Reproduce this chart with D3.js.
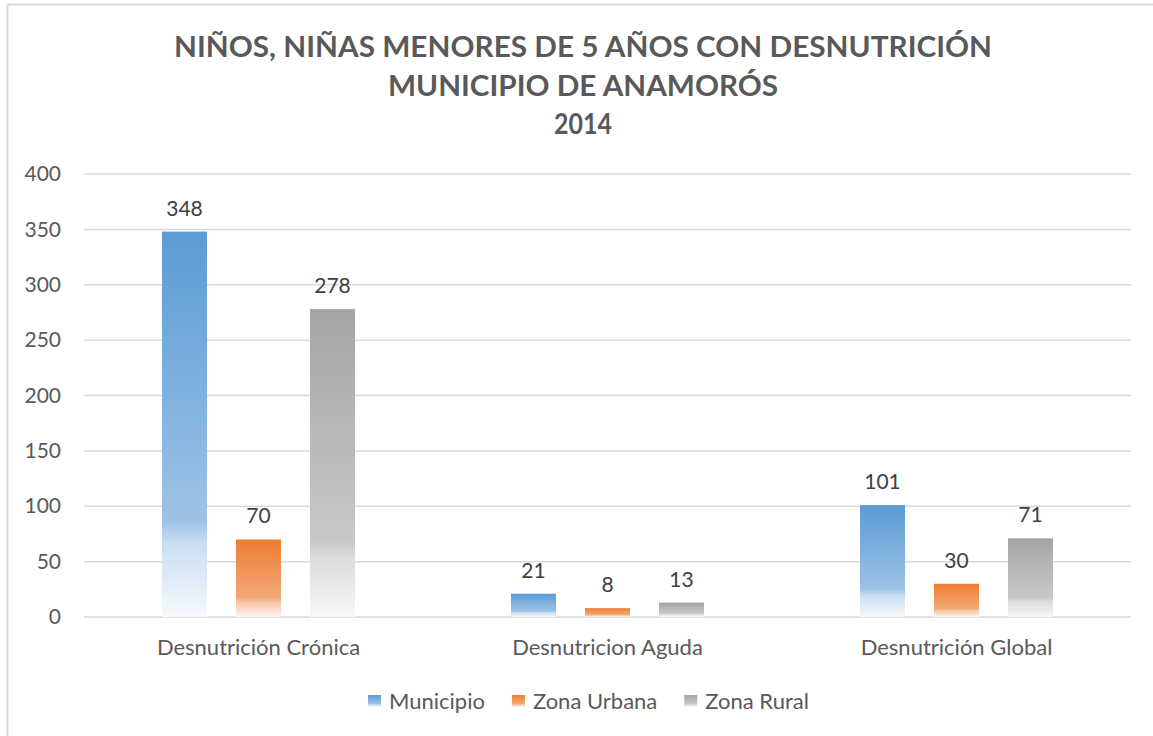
<!DOCTYPE html>
<html>
<head>
<meta charset="utf-8">
<script src="https://cdn.jsdelivr.net/npm/d3@7"></script>
<style>
  body { margin: 0; background: #fff; }
  svg { display: block; font-family: Lato, "Open Sans", sans-serif; }
</style>
</head>
<body>
<div id="chart"></div>
<script>
var titleLines = ["NIÑOS, NIÑAS MENORES DE 5 AÑOS CON DESNUTRICIÓN", "MUNICIPIO DE ANAMORÓS", "2014"];
var categories = ["Desnutrición Crónica", "Desnutricion Aguda", "Desnutrición Global"];
var seriesNames = ["Municipio", "Zona Urbana", "Zona Rural"];
var municipio = [348, 21, 101];
var zonaUrbana = [70, 8, 30];
var zonaRural = [278, 13, 71];
var yTicks = [0, 50, 100, 150, 200, 250, 300, 350, 400];

var width = 1153,
    height = 736,
    plotLeft = 84,
    plotRight = 1131,
    plotTop = 174,
    plotBottom = 617;

// colour stops for each series gradient: top, mid, fade, bottom
var seriesColors = [
    ["#5b9bd5", "#9dc3e6", "#c9def2", "#f6f9fd"],
    ["#ed7d31", "#f3a878", "#f7c6a5", "#fef6f0"],
    ["#a5a5a5", "#c8c8c8", "#dcdcdc", "#f8f8f8"]
];

var values = [municipio, zonaUrbana, zonaRural];

var svg = d3.select("#chart")
    .append("svg")
    .attr("width", width)
    .attr("height", height);

svg.append("rect")
    .attr("width", width)
    .attr("height", height)
    .style("fill", "#fff");

// chart area border (runs off right/bottom edge)
svg.append("rect")
    .attr("x", 7.5)
    .attr("y", 4.5)
    .attr("width", width + 20)
    .attr("height", height + 20)
    .style("fill", "none")
    .style("stroke", "#d9d9d9")
    .style("stroke-width", "2px");

var defs = svg.append("defs");

seriesColors.forEach(function (c, i) {
    var g = defs.append("linearGradient")
        .attr("id", "grad" + i)
        .attr("x1", 0).attr("y1", 0)
        .attr("x2", 0).attr("y2", 1);
    [[0, c[0]], [0.75, c[1]], [0.81, c[2]], [1, c[3]]].forEach(function (s) {
        g.append("stop")
            .attr("offset", s[0])
            .style("stop-color", s[1]);
    });
});

var titleWidths = [818, 390, 58];
var titleY = [57, 96, 134];

titleLines.forEach(function (t, i) {
    svg.append("text")
        .attr("x", 583)
        .attr("y", titleY[i])
        .attr("text-anchor", "middle")
        .attr("textLength", titleWidths[i])
        .attr("lengthAdjust", "spacingAndGlyphs")
        .style("font-size", "28px")
        .style("font-weight", "bold")
        .style("fill", "#595959")
        .text(t);
});

var y = d3.scaleLinear()
    .domain([0, 400])
    .range([plotBottom, plotTop]);

var x0 = d3.scaleBand()
    .domain(categories)
    .range([plotLeft, plotRight])
    .padding(0);

var x1 = d3.scaleBand()
    .domain(seriesNames)
    .range([0, x0.bandwidth()])
    .paddingInner(0.392)
    .paddingOuter(1.054);

// gridlines
svg.append("g")
    .selectAll("line")
    .data(yTicks)
    .join("line")
    .attr("x1", plotLeft)
    .attr("x2", plotRight)
    .attr("y1", function (d) { return y(d); })
    .attr("y2", function (d) { return y(d); })
    .style("stroke", "#d9d9d9")
    .style("stroke-width", "1.5px");

var axis = d3.axisLeft(y)
    .tickValues(yTicks)
    .tickSize(0)
    .tickPadding(23);

var gAxis = svg.append("g")
    .attr("transform", "translate(" + plotLeft + ",0)")
    .call(axis);

gAxis.select(".domain").remove();
gAxis.selectAll(".tick text")
    .style("font-family", "Lato, 'Open Sans', sans-serif")
    .style("font-size", "21px")
    .style("fill", "#595959");

var groups = svg.append("g")
    .selectAll("g")
    .data(categories)
    .join("g")
    .attr("transform", function (d) { return "translate(" + x0(d) + ",0)"; });

seriesNames.forEach(function (s, si) {
    groups.append("rect")
        .attr("x", x1(s))
        .attr("width", x1.bandwidth())
        .attr("y", function (d, ci) { return y(values[si][ci]); })
        .attr("height", function (d, ci) { return y(0) - y(values[si][ci]); })
        .style("fill", "url(#grad" + si + ")");

    groups.append("text")
        .attr("x", x1(s) + x1.bandwidth() / 2)
        .attr("y", function (d, ci) { return y(values[si][ci]) - 16; })
        .attr("text-anchor", "middle")
        .style("font-size", "21px")
        .style("fill", "#404040")
        .text(function (d, ci) { return values[si][ci]; });
});

// category labels
var xAxis = d3.axisBottom(x0).tickSize(0).tickPadding(22);
var gX = svg.append("g")
    .attr("transform", "translate(0," + plotBottom + ")")
    .call(xAxis);
gX.select(".domain").remove();
gX.selectAll(".tick text")
    .style("font-family", "Lato, 'Open Sans', sans-serif")
    .style("font-size", "22px")
    .style("fill", "#595959");

// legend
var legend = svg.append("g");
var lx = 368;
seriesNames.forEach(function (s, i) {
    legend.append("rect")
        .attr("x", lx)
        .attr("y", 695)
        .attr("width", 13)
        .attr("height", 12)
        .style("fill", "url(#grad" + i + ")");
    var t = legend.append("text")
        .attr("x", lx + 21)
        .attr("y", 709)
        .style("font-size", "22px")
        .style("fill", "#595959")
        .text(s);
    lx += 21 + t.node().getComputedTextLength() + 27;
});
</script>
</body>
</html>
